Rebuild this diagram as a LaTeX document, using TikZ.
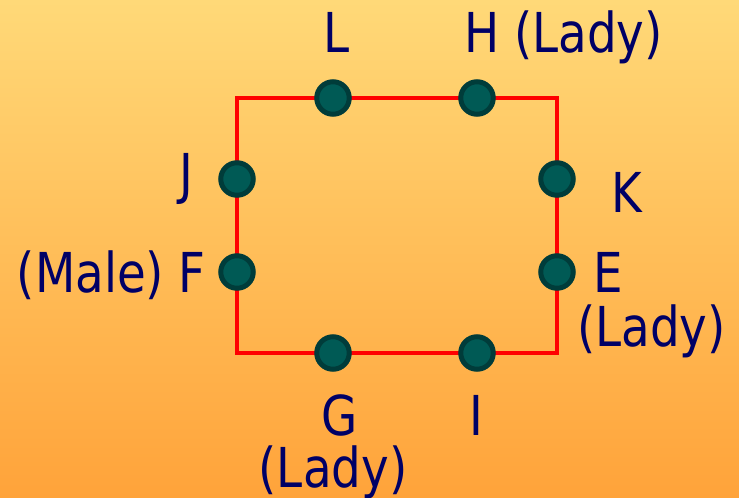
\documentclass[tikz,border=0pt]{standalone}
\usepackage{fontspec}
\setmainfont{DejaVu Sans}[FakeStretch=0.85]
\definecolor{bgtop}{RGB}{255,217,120}
\definecolor{bgbot}{RGB}{255,163,58}
\definecolor{dotfill}{RGB}{0,90,85}
\definecolor{dotedge}{RGB}{0,60,58}
\definecolor{txt}{RGB}{0,0,102}
\begin{document}
\begin{tikzpicture}[x=1pt,y=-1pt,
  dot/.style={circle,fill=dotfill,draw=dotedge,line width=5pt,minimum size=32.5pt,inner sep=0pt},
  lbl/.style={inner sep=0pt,text=txt,font=\fontsize{55}{60}\selectfont},
  frame/.style={draw=red,line width=4pt}]
\useasboundingbox (0,0) rectangle (739,498);
\shade[top color=bgtop,bottom color=bgbot] (0,0) rectangle (739,498);
\coordinate (tl) at (237,98);
\coordinate (tr) at (557,98);
\coordinate (br) at (557,353);
\coordinate (bl) at (237,353);
\draw[frame] (tl) -- (tr) -- (br) -- (bl) -- cycle;
\node[dot] (dL) at (333,98) {};
\node[dot] (dH) at (477,98) {};
\node[dot] (dJ) at (237,179) {};
\node[dot] (dF) at (237,272) {};
\node[dot] (dK) at (557,179) {};
\node[dot] (dE) at (557,272) {};
\node[dot] (dG) at (333,353) {};
\node[dot] (dI) at (477,353) {};
\node[lbl,anchor=base] (tL) at (337,52) {L};
\node[lbl,anchor=base west] (tH) at (464,52) {H (Lady)};
\node[lbl,anchor=base] (tJ) at (186,193) {J};
\node[lbl,anchor=base] (tK) at (627,212) {K};
\node[lbl,anchor=base east] (tF) at (206,292) {(Male) F};
\node[lbl,anchor=base west] (tE) at (593,292) {E};
\node[lbl,anchor=base west] (tE2) at (577,346) {(Lady)};
\node[lbl,anchor=base] (tG) at (340,435) {G};
\node[lbl,anchor=base] (tI) at (476,435) {I};
\node[lbl,anchor=base] (tG2) at (333,487) {(Lady)};
\end{tikzpicture}
\end{document}
